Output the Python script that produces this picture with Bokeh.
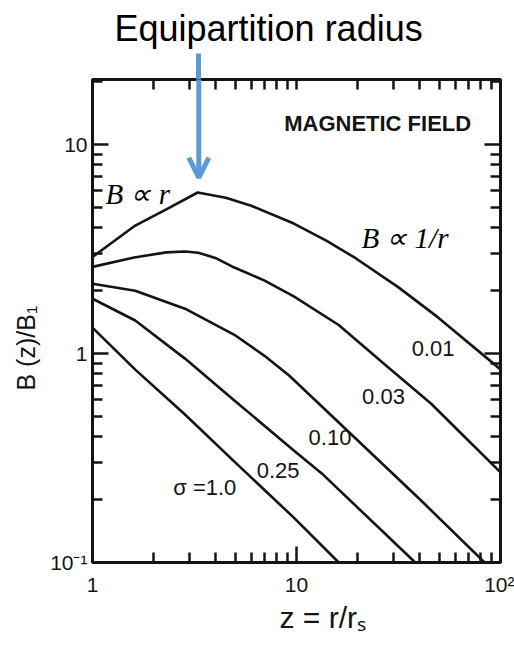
from bokeh.plotting import figure
from bokeh.models import (FixedTicker, LogAxis, Label, Arrow, OpenHead,
                          Range1d, Title)
from bokeh.embed import file_html
from bokeh.resources import INLINE

# Normalised magnetic field B(z)/B1 against z = r/r_s, one curve per sigma
z_001 = [1.0, 1.62, 2.3, 3.28, 4.5, 6.0, 9.7, 14.0, 19.5, 31.5, 49.4, 100.0]
b_001 = [2.9, 4.1, 4.9, 5.9, 5.57, 5.1, 4.19, 3.47, 2.86, 2.08, 1.49, 0.84]
z_003 = [1.0, 1.6, 2.3, 2.84, 3.3, 4.0, 4.96, 6.94, 9.7, 16.1, 28.2, 45.6, 100.0]
b_003 = [2.6, 2.88, 3.05, 3.08, 3.04, 2.87, 2.58, 2.24, 1.88, 1.37, 0.857, 0.577, 0.27]
z_010 = [1.0, 1.62, 2.84, 4.96, 6.94, 9.2, 19.5, 40.8, 83.6]
b_010 = [2.16, 2.0, 1.64, 1.23, 0.978, 0.785, 0.392, 0.198, 0.1]
z_025 = [1.0, 1.62, 2.84, 4.96, 9.7, 13.3, 38.2]
b_025 = [1.83, 1.44, 0.946, 0.596, 0.344, 0.267, 0.1]
z_100 = [1.0, 1.62, 2.84, 4.96, 9.7, 16.1]
b_100 = [1.33, 0.838, 0.511, 0.304, 0.164, 0.1]

curve_labels = ["0.01", "0.03", "0.10", "0.25", "σ =1.0"]
label_z = [46.7, 26.7, 14.6, 8.13, 3.55]
label_b = [1.057, 0.623, 0.396, 0.275, 0.229]

# equipartition radius (peak of the sigma = 0.01 curve)
z_eq = 3.32
arrow_tip_b = 6.95

x_ticks = [1, 10, 100]
x_tick_labels = ["1", "10", "10²"]
x_minor = [2, 3, 4, 5, 6, 7, 8, 9, 20, 30, 40, 50, 60, 70, 80, 90]
top_minor = [2, 3, 4, 5, 6, 7, 8, 9, 10, 20, 30, 40, 50, 60, 70, 80, 90]
y_ticks = [0.1, 1, 10]
y_tick_labels = ["10⁻¹", "1", "10"]
y_minor = [0.2, 0.3, 0.4, 0.5, 0.6, 0.7, 0.8, 0.9, 2, 3, 4, 5, 6, 7, 8, 9, 20]

INK = "#141414"
BLUE = "#5b9bd5"
SANS = "Liberation Sans"

p = figure(width=514, height=646, x_axis_type="log", y_axis_type="log",
           x_range=Range1d(1, 100), y_range=Range1d(0.1, 20.5),
           output_backend="svg", toolbar_location=None,
           min_border_left=92, min_border_right=14,
           min_border_top=79, min_border_bottom=84)
p.background_fill_color = "white"
p.border_fill_color = "white"
p.outline_line_color = INK
p.outline_line_width = 3
p.xgrid.visible = False
p.ygrid.visible = False


def style_axis(ax, ticker, overrides=None):
    ax.ticker = ticker
    ax.axis_line_color = INK
    ax.axis_line_width = 3
    ax.major_tick_line_color = INK
    ax.minor_tick_line_color = INK
    ax.major_tick_line_width = 2.5
    ax.minor_tick_line_width = 2.5
    ax.major_tick_in = 16
    ax.major_tick_out = 0
    ax.minor_tick_in = 10
    ax.minor_tick_out = 0
    if overrides:
        ax.major_label_overrides = overrides
        ax.major_label_text_font = SANS
        ax.major_label_text_font_size = "21px"
        ax.major_label_text_color = INK
    else:
        ax.major_label_text_font_size = "1px"
        ax.major_label_text_color = None
        ax.major_label_standoff = 0


style_axis(p.xaxis[0], FixedTicker(ticks=x_ticks, minor_ticks=x_minor),
           dict(zip(x_ticks, x_tick_labels)))
p.xaxis[0].major_label_standoff = 10
style_axis(p.yaxis[0], FixedTicker(ticks=y_ticks, minor_ticks=y_minor),
           dict(zip(y_ticks, y_tick_labels)))
p.yaxis[0].major_label_standoff = 5

# top frame edge; its single major tick is the shaft of the blue marker
top_axis = LogAxis()
style_axis(top_axis, FixedTicker(ticks=[z_eq], minor_ticks=top_minor))
top_axis.major_tick_line_color = BLUE
top_axis.major_tick_line_width = 5
top_axis.major_tick_in = 0
top_axis.major_tick_out = 26
p.add_layout(top_axis, "above")

right_axis = LogAxis()
style_axis(right_axis, FixedTicker(ticks=y_ticks, minor_ticks=y_minor))
p.add_layout(right_axis, "right")

# the five field profiles
for zs, bs in [(z_001, b_001), (z_003, b_003), (z_010, b_010),
               (z_025, b_025), (z_100, b_100)]:
    p.line(zs, bs, line_color=INK, line_width=2.6, line_join="round")

for txt, lz, lb in zip(curve_labels, label_z, label_b):
    p.add_layout(Label(x=lz, y=lb, text=txt, text_align="center",
                       text_baseline="middle", text_font=SANS,
                       text_font_size="22px", text_color=INK))

p.add_layout(Label(x=8.7, y=12.6, text="MAGNETIC FIELD", text_font=SANS,
                   text_font_style="bold", text_font_size="22px",
                   text_color=INK, text_baseline="alphabetic"))

p.add_layout(Label(x=1.157, y=5.83, text="B ∝ r", text_font="Liberation Serif",
                   text_font_style="italic", text_font_size="29px",
                   text_color="black", text_baseline="alphabetic"))
p.add_layout(Label(x=20.8, y=3.59, text="B ∝ 1/r", text_font="Liberation Serif",
                   text_font_style="italic", text_font_size="29px",
                   text_color="black", text_baseline="alphabetic"))

# marker pointing at the equipartition radius
p.add_layout(Arrow(x_start=z_eq, y_start=p.y_range.end, x_end=z_eq,
                   y_end=arrow_tip_b, line_color=BLUE, line_width=5,
                   end=OpenHead(size=20, line_color=BLUE, line_width=5)))

# headline and axis titles
p.title.text = "Equipartition radius"
p.title.align = "left"
p.title.offset = 22
p.title.standoff = 9
p.title.text_line_height = 0.8
p.title.text_font = SANS
p.title.text_font_style = "normal"
p.title.text_font_size = "36px"
p.title.text_color = "black"

p.add_layout(Title(text="z = r/rₛ", align="left", offset=187, standoff=0,
                   text_font=SANS, text_font_style="normal",
                   text_font_size="30px", text_color=INK), "below")
p.add_layout(Title(text="B (z)/B₁", align="left", offset=172, standoff=16,
                   text_line_height=0.8,
                   text_font=SANS, text_font_style="normal",
                   text_font_size="25px", text_color=INK), "left")

open("out.html", "w").write(file_html(p, INLINE))
